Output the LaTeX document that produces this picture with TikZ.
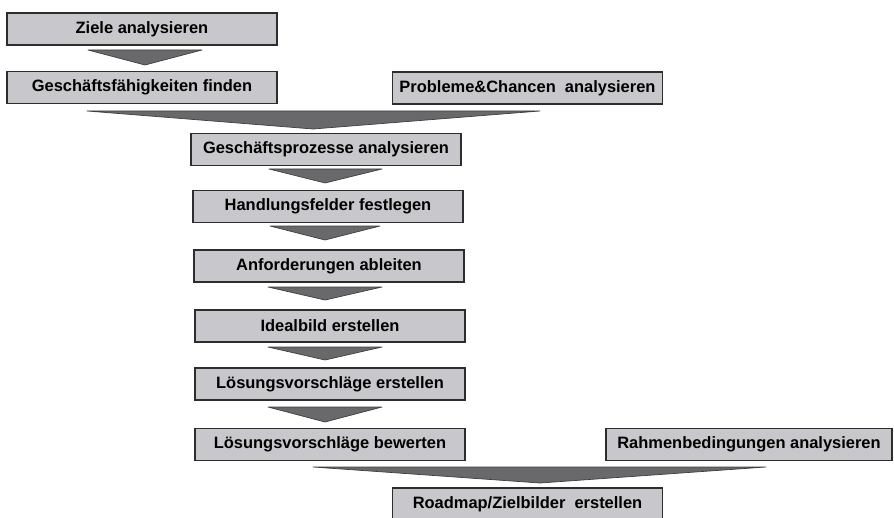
\documentclass[tikz,border=0pt]{standalone}
\usepackage{fontspec}
\setmainfont{Liberation Sans}
\definecolor{boxgray}{RGB}{200,200,204}
\definecolor{chevgray}{RGB}{105,105,108}
\definecolor{edgegray}{RGB}{45,45,45}
\usetikzlibrary{positioning}

\begin{document}
\begin{tikzpicture}[x=0.025cm,y=-0.025cm,
  stepbox/.style={draw=edgegray,fill=boxgray,line width=0.9pt,minimum width=6.75cm,minimum height=0.8cm,inner sep=0pt,font=\fontsize{11.7}{14}\selectfont\bfseries},
  chev/.style={fill=chevgray,draw=chevgray!60!black,line width=0.5pt,line join=round}]
\useasboundingbox (0,0) rectangle (894,518);
% steps
\node[stepbox] (ziele) at (142,29) {Ziele analysieren};
\node[stepbox] (faehig) at (142,87.5) {Geschäftsfähigkeiten finden};
\node[stepbox] (probleme) at (527.5,88) {Probleme\&Chancen~ analysieren};
\node[stepbox] (prozesse) at (326,149.5) {Geschäftsprozesse analysieren};
\node[stepbox] (handlung) at (328,206.5) {Handlungsfelder festlegen};
\node[stepbox] (anford) at (329,266) {Anforderungen ableiten};
\node[stepbox] (ideal) at (330,326) {Idealbild erstellen};
\node[stepbox] (erstellen) at (330,384) {Lösungsvorschläge erstellen};
\node[stepbox] (bewerten) at (330,444.5) {Lösungsvorschläge bewerten};
\node[stepbox,minimum width=7.15cm] (rahmen) at (749,444.5) {Rahmenbedingungen analysieren};
\node[stepbox] (roadmap) at (527.5,504) {Roadmap/Zielbilder~ erstellen};
% chevrons
\draw[chev] (88,50) -- (202,50) -- (145,65) -- cycle;
\draw[chev] (87,111) -- (540,111) -- (313,129) -- cycle;
\draw[chev] (269,169) -- (382,169) -- (325,183) -- cycle;
\draw[chev] (270,226) -- (380,226) -- (325,240) -- cycle;
\draw[chev] (268,287) -- (382,287) -- (325,300) -- cycle;
\draw[chev] (268,347) -- (382,347) -- (325,360) -- cycle;
\draw[chev] (268,407) -- (382,407) -- (325,422) -- cycle;
\draw[chev] (313,467) -- (766,467) -- (540,483) -- cycle;
\end{tikzpicture}
\end{document}
